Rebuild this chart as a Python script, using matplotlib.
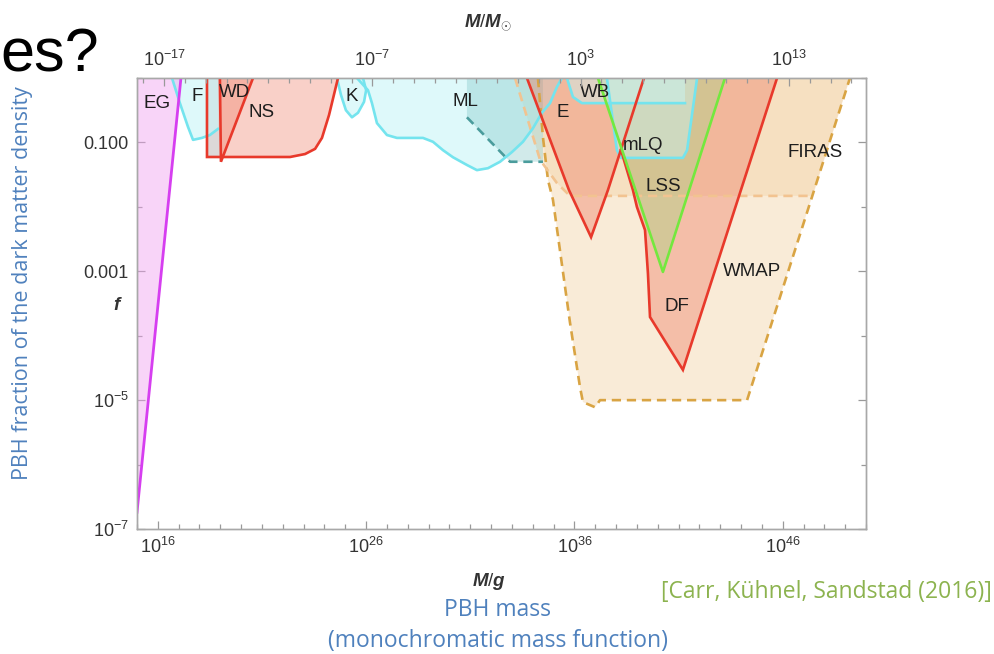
import numpy as np
import matplotlib
matplotlib.use("Agg")
import matplotlib.pyplot as plt
from matplotlib.ticker import FixedLocator, FixedFormatter, NullFormatter

plt.rcParams['font.family'] = ['Liberation Sans', 'DejaVu Sans']
plt.rcParams['mathtext.fontset'] = 'custom'
plt.rcParams['mathtext.rm'] = 'Liberation Sans'
plt.rcParams['mathtext.it'] = 'Liberation Sans:bold:italic'
plt.rcParams['mathtext.bf'] = 'Liberation Sans:bold'

M_SUN_G = 1.989e33

# Constraint boundaries, given as log10(M/g) and log10(f)
eg_logm = [15.0, 17.11]
eg_logf = [-6.74, 0.0]

f_logm = [16.68, 17.06, 17.45, 17.69, 18.12, 18.50, 18.89]
f_logf = [0.0, -0.39, -0.76, -0.96, -0.93, -0.885, -0.79]

ns_logm = [18.36, 18.36, 22.35, 23.07, 23.55, 23.88, 24.22, 24.65]
ns_logf = [0.0, -1.226, -1.226, -1.18, -1.10, -0.93, -0.574, 0.0]

wd_logm = [18.98, 19.03, 20.57]
wd_logf = [0.0, -1.30, 0.0]

grey_logm = [18.36, 18.98]
grey_logf = [-1.226, 0.0]

k_logm = [24.60, 24.79, 25.03, 25.32, 25.61, 25.90, 26.00, 25.85]
k_logf = [0.0, -0.26, -0.50, -0.61, -0.54, -0.37, -0.19, 0.0]

ml_logm = [25.56, 26.09, 26.28, 26.52, 27.00, 27.48, 28.11, 28.73, 29.21, 29.69,
           30.17, 30.84, 31.32, 31.85, 32.43, 33.00, 33.53, 34.01, 34.44, 34.83,
           35.16, 35.40]
ml_logf = [0.0, -0.19, -0.39, -0.70, -0.885, -0.93, -0.93, -0.93, -0.99, -1.12,
           -1.23, -1.35, -1.43, -1.40, -1.30, -1.15, -0.99, -0.78, -0.54, -0.39,
           -0.14, 0.0]

mlq_dash_logm = [30.84, 32.91, 34.49]
mlq_dash_logf = [-0.61, -1.30, -1.30]

e_logm = [33.72, 35.74, 36.80, 37.61, 39.34]
e_logf = [0.0, -1.74, -2.47, -1.74, 0.0]

wb_logm = [35.64, 35.93, 36.36, 41.31]
wb_logf = [0.0, -0.295, -0.39, -0.39]

mlq_logm = [37.56, 38.04, 38.24, 41.21, 41.41, 41.89]
mlq_logf = [0.0, -1.12, -1.24, -1.24, -1.12, 0.0]

lss_logm = [37.13, 40.25, 43.23]
lss_logf = [0.0, -3.01, 0.0]

df_logm = [38.24, 38.81, 39.00, 39.39, 39.53, 39.63, 41.21, 45.73]
df_logf = [-1.12, -1.74, -2.00, -2.36, -3.03, -3.71, -4.53, 0.0]

firas_logm = [33.15, 34.35, 35.16, 35.79, 47.45]
firas_logf = [0.0, -1.27, -1.63, -1.83, -1.83]

wmap_logm = [34.25, 34.49, 34.73, 34.97, 35.79, 36.27, 36.41, 36.99, 37.23, 44.29, 49.23]
wmap_logf = [0.0, -0.92, -1.58, -1.89, -3.80, -4.80, -5.03, -5.11, -5.00, -5.00, 0.0]

labels = ['EG', 'F', 'WD', 'NS', 'K', 'ML', 'E', 'WB', 'mLQ', 'LSS', 'FIRAS', 'WMAP', 'DF']
label_logm = [15.96, 17.88, 19.70, 21.0, 25.32, 30.75, 35.45, 36.99, 39.29, 40.25, 47.55, 44.53, 40.92]
label_logf = [-0.39, -0.29, -0.23, -0.54, -0.29, -0.37, -0.54, -0.22, -1.04, -1.69, -1.16, -3.01, -3.55]

x_major_g = [1e16, 1e26, 1e36, 1e46]
x_major_g_labels = [r'$10^{16}$', r'$10^{26}$', r'$10^{36}$', r'$10^{46}$']
x_major_sun = [1e-17, 1e-7, 1e3, 1e13]
x_major_sun_labels = [r'$10^{-17}$', r'$10^{-7}$', r'$10^{3}$', r'$10^{13}$']
y_major = [1e-7, 1e-5, 1e-3, 1e-1]
y_major_labels = [r'$10^{-7}$', r'$10^{-5}$', '0.001', '0.100']

# colours
CYAN_LINE = '#74e4ee'
CYAN_FILL = '#c8f6f8'
TEAL = '#4a9c9c'
RED_LINE = '#e8392b'
RED_FILL = '#ee7b62'
GREEN_LINE = '#74e83e'
GREEN_FILL = '#b5d08a'
MAG_LINE = '#d63ef0'
MAG_FILL = '#f0a0f0'
TAN_FILL = '#f3d3a8'
DASH_DARK = '#d9a443'
DASH_LIGHT = '#f2c390'


def P(a):
    return 10.0 ** np.asarray(a, dtype=float)


fig = plt.figure(figsize=(9.94, 6.54), dpi=100)
ax = fig.add_axes([137 / 994, 1 - 529 / 654, (866 - 137) / 994, (529 - 78) / 654])
ax.set_xscale('log')
ax.set_yscale('log')
ax.set_xlim(1e15, 1e50)
ax.set_ylim(1e-7, 1.0)

# ---- fills (back to front) ----
ax.fill(P(wmap_logm), P(wmap_logf), color=TAN_FILL, alpha=0.45, lw=0, zorder=1)
ax.fill(P(firas_logm + [49.23]), P(firas_logf + [0.0]), color=TAN_FILL, alpha=0.45, lw=0, zorder=1.1)
ax.fill(P(ml_logm), P(ml_logf), color=CYAN_FILL, alpha=0.6, lw=0, zorder=1.2)
ax.fill(P([mlq_dash_logm[0]] + mlq_dash_logm + [mlq_dash_logm[-1]]),
        P([0.0] + mlq_dash_logf + [0.0]), color='#7cc4c4', alpha=0.35, lw=0, zorder=1.3)
ax.fill(P(e_logm), P(e_logf), color=RED_FILL, alpha=0.4, lw=0, zorder=1.4)
ax.fill(P(df_logm + [e_logm[-1]]), P(df_logf + [0.0]), color=RED_FILL, alpha=0.4, lw=0, zorder=1.5)
ax.fill(P(lss_logm), P(lss_logf), color=GREEN_FILL, alpha=0.5, lw=0, zorder=1.6)
ax.fill(P(wb_logm + [wb_logm[-1]]), P(wb_logf + [0.0]), color=CYAN_FILL, alpha=0.45, lw=0, zorder=1.7)
ax.fill(P(mlq_logm), P(mlq_logf), color=CYAN_FILL, alpha=0.45, lw=0, zorder=1.8)
ax.fill(P(ns_logm), P(ns_logf), color=RED_FILL, alpha=0.35, lw=0, zorder=1.9)
ax.fill(P(wd_logm), P(wd_logf), color=RED_FILL, alpha=0.35, lw=0, zorder=2.0)
ax.fill(P([grey_logm[0], grey_logm[1], grey_logm[1], grey_logm[0]]),
        P([grey_logf[0], grey_logf[0], grey_logf[1], grey_logf[1]]),
        color='#dcd8d8', lw=0, zorder=2.1)
ax.fill(P(f_logm + [f_logm[-1]]), P(f_logf + [0.0]), color=CYAN_FILL, alpha=0.6, lw=0, zorder=2.2)
ax.fill(P(k_logm), P(k_logf), color=CYAN_FILL, alpha=0.6, lw=0, zorder=2.2)
ax.fill(P([eg_logm[0] - 0.2] + eg_logm + [eg_logm[0] - 0.2]),
        P([eg_logf[0]] + eg_logf + [0.0]), color=MAG_FILL, alpha=0.45, lw=0, zorder=2.3)

# ---- boundary lines ----
dash = (0, (3.5, 2.2))
ax.plot(P(wmap_logm), P(wmap_logf), color=DASH_DARK, lw=1.9, ls=dash, zorder=3)
ax.plot(P(firas_logm), P(firas_logf), color=DASH_LIGHT, lw=1.9, ls=dash, zorder=3)
ax.plot(P(mlq_dash_logm), P(mlq_dash_logf), color=TEAL, lw=1.9, ls=dash, zorder=3)

for xs, ys in [(f_logm, f_logf), (k_logm, k_logf), (ml_logm, ml_logf),
               (wb_logm, wb_logf), (mlq_logm, mlq_logf)]:
    ax.plot(P(xs), P(ys), color=CYAN_LINE, lw=1.9, zorder=3.2)

for xs, ys in [(ns_logm, ns_logf), (wd_logm, wd_logf), (e_logm, e_logf), (df_logm, df_logf)]:
    ax.plot(P(xs), P(ys), color=RED_LINE, lw=1.9, zorder=3.4, solid_joinstyle='miter')

ax.plot(P(lss_logm), P(lss_logf), color=GREEN_LINE, lw=1.9, zorder=3.5)
ax.plot(P(eg_logm), P(eg_logf), color=MAG_LINE, lw=2.0, zorder=3.6)

for name, lm, lf in zip(labels, label_logm, label_logf):
    ax.text(10 ** lm, 10 ** lf, name, fontsize=13.5, color='#1e1e1e',
            ha='center', va='center', zorder=5)

# ---- axes styling ----
for s in ax.spines.values():
    s.set_color('#a8a8a8')
    s.set_linewidth(1.0)

ax.xaxis.set_major_locator(FixedLocator(x_major_g))
ax.xaxis.set_major_formatter(FixedFormatter(x_major_g_labels))
ax.xaxis.set_minor_locator(FixedLocator(10.0 ** np.arange(15, 51)))
ax.xaxis.set_minor_formatter(NullFormatter())
ax.yaxis.set_major_locator(FixedLocator(y_major))
ax.yaxis.set_major_formatter(FixedFormatter(y_major_labels))
ax.yaxis.set_minor_locator(FixedLocator(10.0 ** np.arange(-7, 1)))
ax.yaxis.set_minor_formatter(NullFormatter())

ax.tick_params(which='both', direction='in', color='#999999', width=0.9,
               labelcolor='#333333', labelsize=13, top=False, right=True, pad=6)
ax.tick_params(which='major', length=6)
ax.tick_params(which='minor', length=3.5)

ax2 = ax.twiny()
ax2.set_xscale('log')
ax2.set_xlim(1e15 / M_SUN_G, 1e50 / M_SUN_G)
ax2.xaxis.set_major_locator(FixedLocator(x_major_sun))
ax2.xaxis.set_major_formatter(FixedFormatter(x_major_sun_labels))
ax2.xaxis.set_minor_locator(FixedLocator(10.0 ** np.arange(-19, 17)))
ax2.xaxis.set_minor_formatter(NullFormatter())
ax2.tick_params(which='both', direction='in', color='#999999', width=0.9,
                labelcolor='#333333', labelsize=13, pad=6)
ax2.tick_params(which='major', length=6)
ax2.tick_params(which='minor', length=3.5)
for s in ax2.spines.values():
    s.set_color('#a8a8a8')
    s.set_linewidth(1.0)

# axis titles
fig.text(489 / 994, 1 - 582 / 654, r'$M/g$', fontsize=13.5, color='#333333', ha='center', va='center')
fig.text(488 / 994, 1 - 22 / 654, r'$M/M_{\odot}$', fontsize=13.5, color='#333333', ha='center', va='center')
fig.text(118 / 994, 1 - 305 / 654, r'$f$', fontsize=13.5, color='#333333', ha='center', va='center')

# slide annotations
fig.text(0.5 / 994, 1 - 71 / 654, 'es?', fontsize=44, color='black', ha='left', va='baseline')
blue = '#4f81bd'
sans = ['Open Sans', 'DejaVu Sans']
fig.text(23 / 994, 1 - 283 / 654, 'PBH fraction of the dark matter density', rotation=90,
         fontsize=15.5, color=blue, family=sans, ha='center', va='center')
fig.text(497 / 994, 1 - 610 / 654, 'PBH mass', fontsize=16.5, color=blue, family=sans,
         ha='center', va='center')
fig.text(497.5 / 994, 1 - 641 / 654, '(monochromatic mass function)', fontsize=16.5, color=blue,
         family=sans, ha='center', va='center')
fig.text(992 / 994, 1 - 592 / 654, '[Carr, Kühnel, Sandstad (2016)]', fontsize=16.5,
         color='#8cb34f', family=sans, ha='right', va='center')

fig.savefig('out.png', dpi=100)
